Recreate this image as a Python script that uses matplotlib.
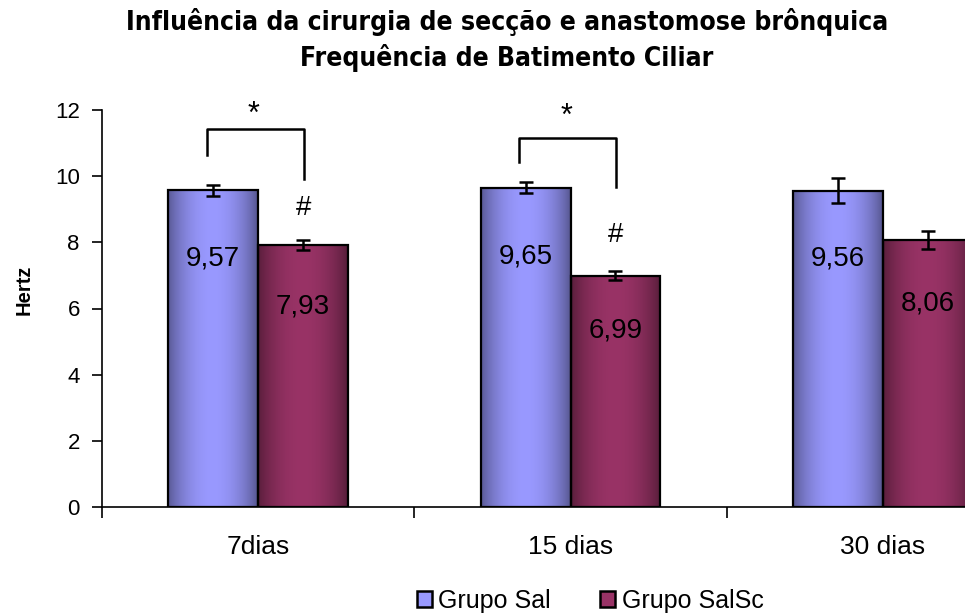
import numpy as np
import matplotlib
matplotlib.use("Agg")
import matplotlib.pyplot as plt
from matplotlib.patches import Rectangle

# ---- data ----
categories = ["7dias", "15 dias", "30 dias"]
series_names = ["Grupo Sal", "Grupo SalSc"]
sal_values = [9.57, 9.65, 9.56]
salsc_values = [7.93, 6.99, 8.06]
sal_err = [0.17, 0.17, 0.37]
salsc_err = [0.15, 0.13, 0.27]
sal_labels = ["9,57", "9,65", "9,56"]
salsc_labels = ["7,93", "6,99", "8,06"]
y_ticks = [0, 2, 4, 6, 8, 10, 12]
title = "Influência da cirurgia de secção e anastomose brônquica\nFrequência de Batimento Ciliar"
y_label = "Hertz"

# ---- styling ----
W, H = 965, 615
fig = plt.figure(figsize=(W / 100, H / 100), dpi=100)
ax_left, ax_right, ax_top, ax_bottom = 102, 1039, 110, 507
ax = fig.add_axes([ax_left / W, (H - ax_bottom) / H,
                   (ax_right - ax_left) / W, (ax_bottom - ax_top) / H])

font_main = ["Liberation Sans", "DejaVu Sans"]
font_title = ["Liberation Sans Narrow", "DejaVu Sans"]

x = np.arange(len(categories))
bw = 0.288
sal_base = np.array([0x99, 0x99, 0xFF]) / 255
salsc_base = np.array([0x99, 0x33, 0x66]) / 255

bars_sal = ax.bar(x - bw / 2, sal_values, bw, facecolor="none",
                  edgecolor="black", linewidth=1.6, zorder=3)
bars_salsc = ax.bar(x + bw / 2, salsc_values, bw, facecolor="none",
                    edgecolor="black", linewidth=1.6, zorder=3)

t = np.linspace(0, 1, 200)
prof = 0.48 + 0.52 * np.clip(np.sin(np.pi * (t * 0.95 + 0.03)), 0, 1) ** 0.7


def grad_img(base):
    img = np.clip(base[None, :] * prof[:, None], 0, 1)
    return img[None, :, :]


for bars, base in ((bars_sal, sal_base), (bars_salsc, salsc_base)):
    for p in bars:
        x0, y0 = p.get_x(), p.get_y()
        w, h = p.get_width(), p.get_height()
        im = ax.imshow(grad_img(base), extent=[x0, x0 + w, y0, y0 + h],
                       aspect="auto", zorder=2, interpolation="bilinear")
        im.set_clip_path(p)

ax.errorbar(x - bw / 2, sal_values, yerr=sal_err, fmt="none", ecolor="black",
            elinewidth=1.8, capsize=5, capthick=1.8, zorder=4)
ax.errorbar(x + bw / 2, salsc_values, yerr=salsc_err, fmt="none", ecolor="black",
            elinewidth=1.8, capsize=5, capthick=1.8, zorder=4)

for xi, v, lab in zip(x - bw / 2, sal_values, sal_labels):
    ax.text(xi, v * 0.785, lab, ha="center", va="center", fontsize=20,
            family=font_main, zorder=5)
for xi, v, lab in zip(x + bw / 2, salsc_values, salsc_labels):
    ax.text(xi, v * 0.765, lab, ha="center", va="center", fontsize=20,
            family=font_main, zorder=5)

# significance brackets (7 and 15 days)
brackets = [(0, 11.43, 10.64, 9.92, 12.06, 9.04),
            (1, 11.15, 10.43, 9.67, 12.0, 8.22)]
for gi, top, lb, rb, star_y, hash_y in brackets:
    xl, xr = gi - 0.165, gi + 0.147
    ax.plot([xl, xl, xr, xr], [lb, top, top, rb], color="black", lw=1.8,
            clip_on=False, zorder=5)
    ax.text((xl + xr) / 2 - 0.005, star_y - 0.2, "*", ha="center", va="center",
            fontsize=22, family=font_main, clip_on=False)
    ax.text(gi + bw / 2, hash_y, "#", ha="center", va="center",
            fontsize=20, family=font_main, clip_on=False)

ax.set_xlim(-0.5, 2.5)
ax.set_ylim(0, 12)
ax.set_yticks(y_ticks)
ax.set_yticklabels([str(v) for v in y_ticks], family=font_main, fontsize=16)
ax.set_xticks([-0.5, 0.5, 1.5, 2.5])
ax.set_xticklabels([])
ax.set_xticks(x, minor=True)
ax.set_xticklabels(categories, minor=True, family=font_main, fontsize=19)
ax.tick_params(axis="x", which="major", length=8, width=1.2, direction="out")
ax.tick_params(axis="x", which="minor", length=0, pad=20)
ax.tick_params(axis="y", length=7, width=1.2, direction="out", pad=9)

for s in ("top", "right"):
    ax.spines[s].set_visible(False)
for s in ("left", "bottom"):
    ax.spines[s].set_linewidth(1.2)
    ax.spines[s].set_color("black")

fig.text(24 / W, 1 - 290 / H, y_label, rotation=90, ha="center", va="center",
         fontsize=14.5, fontweight="bold", family=font_main)

fig.text(507 / W, 1 - 40 / H, title, ha="center", va="center", fontsize=19,
         fontweight="bold", family=font_title, fontstretch="condensed",
         linespacing=1.38)

handles = [Rectangle((0, 0), 1, 1, facecolor=sal_base, edgecolor="black", lw=1.8),
           Rectangle((0, 0), 1, 1, facecolor=salsc_base, edgecolor="black", lw=1.8)]
fig.legend(handles, series_names, loc="center", bbox_to_anchor=(590 / W, 1 - 601 / H),
           ncol=2, frameon=False, prop={"family": font_main, "size": 18},
           handlelength=0.6, handleheight=0.6, handletextpad=0.25, columnspacing=2.0)

fig.savefig("out.png", dpi=100)
